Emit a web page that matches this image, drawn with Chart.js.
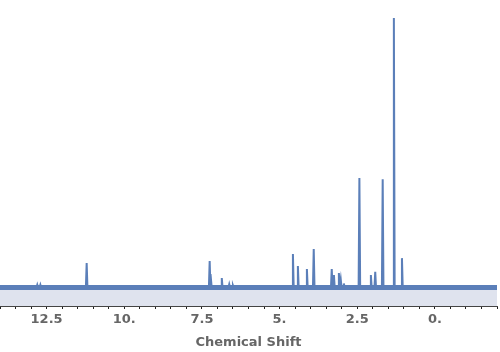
<!DOCTYPE html>
<html>
<head>
<meta charset="utf-8">
<script src="https://cdn.jsdelivr.net/npm/chart.js@4"></script>
<style>
  html, body { margin: 0; padding: 0; background: #fff; }
  #wrap { width: 500px; height: 352px; }
</style>
</head>
<body>
<div id="wrap"><canvas id="nmr"></canvas></div>
<script>
// peak positions (ppm) and heights (tallest = 100)
const peakShift  = [12.8, 12.7, 11.21, 7.25, 7.21, 6.86, 6.62, 6.5, 4.57, 4.41, 4.12, 3.90, 3.32, 3.25, 3.09, 3.03, 2.93, 2.43, 2.06, 1.92, 1.68, 1.32, 1.06];
const peakHeight = [1.0, 1.0, 9.1, 9.8, 5.0, 3.5, 1.2, 0.8, 12.4, 8.0, 6.9, 14.3, 6.9, 4.6, 5.4, 3.0, 1.5, 40.6, 4.6, 5.8, 40.2, 100, 10.9];
const xTicksMajor = [12.5, 10, 7.5, 5, 2.5, 0];
const xRange = [14, -2];

const lineColor = "#5b7fb9";
const fillColor = "#dfe3ee";

// spectrum: flat baseline with narrow spikes at each peak
const spectrum = [{ x: xRange[0], y: 0 }];
peakShift.forEach((s, i) => {
  spectrum.push({ x: s + 0.025, y: 0 });
  spectrum.push({ x: s, y: peakHeight[i] });
  spectrum.push({ x: s - 0.025, y: 0 });
});
spectrum.push({ x: xRange[1], y: 0 });

const ctx = document.getElementById("nmr").getContext("2d");
new Chart(ctx, {
  type: "line",
  data: {
    datasets: [
      {
        // noisy baseline band + filled area below it
        data: [{ x: xRange[0], y: 0 }, { x: xRange[1], y: 0 }],
        borderColor: lineColor,
        borderWidth: 5,
        backgroundColor: fillColor,
        fill: "start",
        pointRadius: 0,
      },
      {
        data: spectrum,
        borderColor: lineColor,
        borderWidth: 2,
        fill: false,
        pointRadius: 0,
        tension: 0,
      },
    ],
  },
  options: {
    responsive: true,
    maintainAspectRatio: false,
    animation: false,
    layout: { padding: { left: 0, right: 3, top: 0, bottom: 0 } },
    plugins: { legend: { display: false }, tooltip: { enabled: false } },
    scales: {
      x: {
        type: "linear",
        reverse: true,
        min: xRange[1],
        max: xRange[0],
        afterFit: (scale) => {
          // fixed axis band so the plot ends where the reference does
          scale.height = 46;
          scale.paddingLeft = 0;
          scale.paddingRight = 0;
        },
        border: { display: true, color: "#444", width: 1 },
        grid: { display: true, drawOnChartArea: false, drawTicks: true, tickLength: 3, color: "#222" },
        ticks: {
          stepSize: 0.5,
          autoSkip: false,
          maxRotation: 0,
          padding: 3,
          color: "#666",
          font: { family: "DejaVu Sans", size: 13, weight: "bold" },
          callback: (v) => {
            const hit = xTicksMajor.find((t) => Math.abs(t - v) < 1e-6);
            if (hit === undefined) return "";
            return Number.isInteger(hit) ? hit + "." : String(hit);
          },
        },
        title: {
          display: true,
          text: "Chemical Shift",
          color: "#666",
          padding: { top: 4, bottom: 2 },
          font: { family: "DejaVu Sans", size: 13, weight: "bold" },
        },
      },
      y: {
        display: false,
        min: -6.86,
        max: 106.7,
      },
    },
  },
});
</script>
</body>
</html>
